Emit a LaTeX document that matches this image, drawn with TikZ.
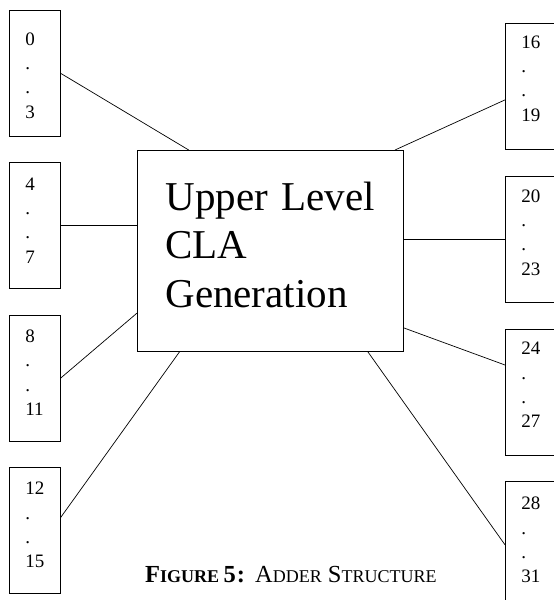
\documentclass[tikz,border=0pt]{standalone}
\usepackage{fontspec}
\setmainfont{Liberation Serif}
\usetikzlibrary{positioning}
\newcommand{\smcap}[1]{{\fontsize{18}{20}\selectfont #1}}

\begin{document}
\begin{tikzpicture}[x=1pt, y=1pt,
  bits/.style={rectangle, draw, line width=0.8pt, inner xsep=16pt, inner ysep=0pt,
               text width=19pt, align=left, font=\fontsize{19}{24.3}\selectfont},
  cla/.style={rectangle, draw, line width=0.8pt, inner xsep=28pt, inner ysep=0pt,
              text width=210pt, align=left, text height=60pt, text depth=141pt,
              font=\fontsize{41}{48.5}\selectfont},
  wire/.style={line width=0.7pt}
]
\useasboundingbox (0,0) rectangle (554,600);
% left column
\node[bits, text height=35pt, text depth=91pt, anchor=north west] (b0) at (9,590) {0\\.\\.\\3};
\node[bits, text height=27.5pt, text depth=98.5pt, below=25.5pt of b0] (b4) {4\\.\\.\\7};
\node[bits, text height=27.5pt, text depth=98.5pt, below=25.5pt of b4] (b8) {8\\.\\.\\11};
\node[bits, text height=27.5pt, text depth=98.5pt, below=25.5pt of b8] (b12) {12\\.\\.\\15};
% right column
\node[bits, text height=25pt, text depth=101pt, anchor=north west] (b16) at (505,577) {16\\.\\.\\19};
\node[bits, text height=26pt, text depth=100pt, below=26pt of b16] (b20) {20\\.\\.\\23};
\node[bits, text height=26pt, text depth=100pt, below=26pt of b20] (b24) {24\\.\\.\\27};
\node[bits, text height=28pt, text depth=98pt, below=26pt of b24] (b28) {28\\.\\.\\31};
% centre block
\node[cla, anchor=north west] (gen) at (137,450) {Upper Level\\CLA\\Generation};
\draw[wire] (b0.east) -- (gen.129.5);
\draw[wire] (b4.east) -- (b4.east -| gen.west);
\draw[wire] (b8.east) -- (gen.205.5);
\draw[wire] ([yshift=13pt]b12.east) -- (gen.228);
\draw[wire] ([yshift=-13.5pt]b16.west) -- (gen.39.5);
\draw[wire] (b20.west) -- (b20.west -| gen.east);
\draw[wire] ([yshift=27pt]b24.west) -- (gen.330.7);
\draw[wire] (b28.west) -- (gen.314);
% caption
\node[anchor=base west, inner sep=0pt, font=\fontsize{24.5}{26}\selectfont] (fig) at (145,17)
  {{\bfseries F\smcap{IGURE }5\hspace{1pt}:}\hspace{10pt}A\smcap{DDER} S\smcap{TRUCTURE}};
\end{tikzpicture}
\end{document}
